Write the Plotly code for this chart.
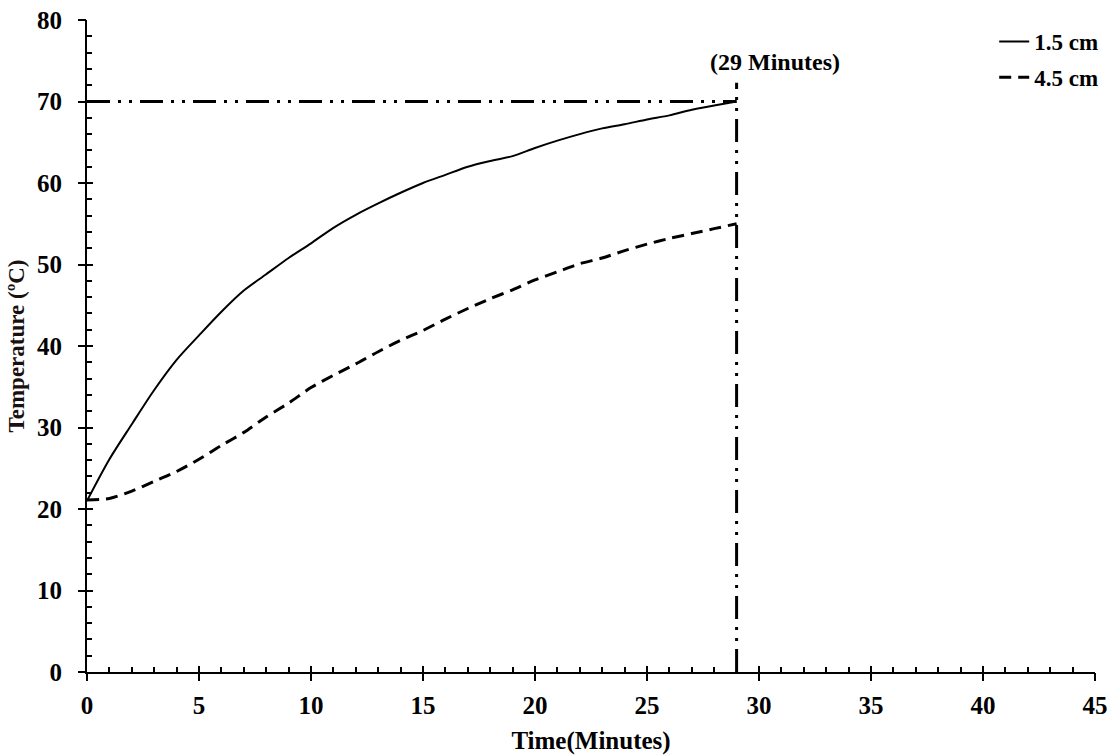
import plotly.graph_objects as go

# Heating time (minutes) and temperature readings for two depths
minutes = list(range(0, 30))
temp_1_5cm = [21.0, 26.1, 30.4, 34.6, 38.3, 41.3, 44.2, 46.8, 48.8, 50.8,
              52.6, 54.5, 56.1, 57.5, 58.8, 60.0, 61.0, 62.0, 62.7, 63.3,
              64.3, 65.2, 66.0, 66.7, 67.2, 67.8, 68.3, 69.0, 69.5, 70.0]
temp_4_5cm = [21.1, 21.3, 22.2, 23.4, 24.6, 26.1, 27.8, 29.4, 31.3, 33.0,
              34.9, 36.4, 37.8, 39.3, 40.7, 41.9, 43.3, 44.6, 45.8, 46.9,
              48.1, 49.1, 50.1, 50.8, 51.7, 52.5, 53.2, 53.8, 54.4, 55.0]
series_names = ["1.5 cm", "4.5 cm"]

# Target temperature and time at which it is reached
target_temp = 70
target_time = 29
guide_top = 72.3
marker_label = "(29 Minutes)"

x_ticks = [0, 5, 10, 15, 20, 25, 30, 35, 40, 45]
y_ticks = [0, 10, 20, 30, 40, 50, 60, 70, 80]

FONT = "Liberation Serif"
dashdot = "23px,8px,3px,8px,3px,8px"

fig = go.Figure()

fig.add_trace(go.Scatter(
    x=minutes, y=temp_1_5cm, mode="lines", name=series_names[0],
    legendgroup="a",
    line=dict(color="black", width=2, shape="spline", smoothing=0.8)))
fig.add_trace(go.Scatter(
    x=minutes, y=temp_4_5cm, mode="lines", name=series_names[1],
    legendgroup="b",
    line=dict(color="black", width=3, dash="12px,7px", shape="spline",
              smoothing=0.8)))

# Guide lines marking the target temperature and time
fig.add_trace(go.Scatter(
    x=[0, target_time], y=[target_temp, target_temp], mode="lines",
    showlegend=False, line=dict(color="black", width=3, dash=dashdot)))
fig.add_trace(go.Scatter(
    x=[target_time, target_time], y=[0, guide_top], mode="lines",
    showlegend=False, line=dict(color="black", width=3, dash=dashdot)))

fig.add_annotation(
    x=target_time, y=74.8, text="<b>" + marker_label + "</b>", showarrow=False,
    xshift=38, font=dict(family=FONT, size=24, color="black"))

tick_font = dict(family=FONT, size=25, color="black", weight="bold")

fig.update_layout(
    width=1115, height=755,
    margin=dict(l=87, r=16, t=20, b=83),
    plot_bgcolor="white", paper_bgcolor="white",
    showlegend=True,
    legend=dict(
        x=0.9, y=1.0, xanchor="left", yanchor="top",
        traceorder="grouped", tracegroupgap=3,
        font=dict(family=FONT, size=23, color="black", weight="bold"),
        bgcolor="rgba(0,0,0,0)",
    ),
    # main axes: inner half of major ticks plus inner minor ticks
    xaxis=dict(
        range=[0, 45], tickvals=x_ticks, ticks="inside", ticklen=6,
        tickcolor="black", tickwidth=2, ticklabelstandoff=10,
        tickfont=tick_font, automargin=False,
        minor=dict(dtick=1, ticks="inside", ticklen=5, tickwidth=2,
                   tickcolor="black"),
        showgrid=False, zeroline=False, showline=True, linecolor="black",
        linewidth=2,
        title=dict(text="<b>Time(Minutes)</b>",
                   font=dict(family=FONT, size=25, color="black"),
                   standoff=13),
    ),
    yaxis=dict(
        range=[0, 80], tickvals=y_ticks, ticks="inside", ticklen=6,
        tickcolor="black", tickwidth=2, ticklabelstandoff=18,
        tickfont=tick_font, automargin=False,
        minor=dict(dtick=2, ticks="inside", ticklen=5, tickwidth=2,
                   tickcolor="black"),
        showgrid=False, zeroline=False, showline=True, linecolor="black",
        linewidth=2,
        title=dict(text="<b>Temperature (ºC)</b>",
                   font=dict(family=FONT, size=23, color="#1a1010"),
                   standoff=6),
    ),
    # overlay axes draw the outer half of the major ticks
    xaxis2=dict(
        overlaying="x", range=[0, 45], tickvals=x_ticks, ticks="outside",
        ticklen=8, tickwidth=2, tickcolor="black", showticklabels=False,
        showgrid=False, zeroline=False, showline=False, side="bottom",
        anchor="y", automargin=False),
    yaxis2=dict(
        overlaying="y", range=[0, 80], tickvals=y_ticks, ticks="outside",
        ticklen=8, tickwidth=2, tickcolor="black", showticklabels=False,
        showgrid=False, zeroline=False, showline=False, side="left",
        anchor="x", automargin=False),
)

# invisible trace to activate the overlay axes
fig.add_trace(go.Scatter(x=[None], y=[None], xaxis="x2", yaxis="y2",
                         showlegend=False, hoverinfo="skip"))

fig.write_html("out.html")
